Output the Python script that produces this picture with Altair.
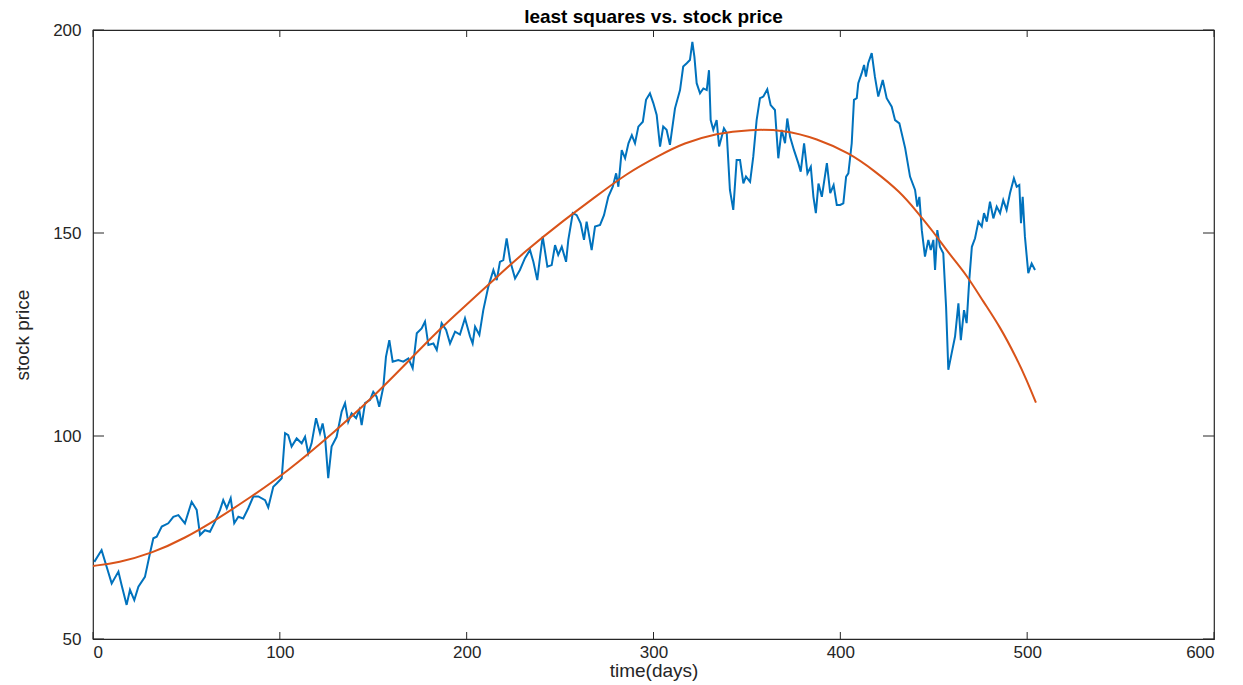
import altair as alt
import pandas as pd

# stock price series (day, price)
days = [0.7, 4.6, 7.3, 10, 13.6, 15.3, 18, 19.8, 22.1, 24.3, 27.8, 30.5, 32.3, 34.1, 36.8, 40.3, 43, 45.7, 49.2,
        52.8, 55.5, 57.3, 59.9, 62.6, 65.3, 68, 69.7, 71.6, 73.7, 75.6, 77.8, 80.4, 83.1, 85.8, 88.5, 92.1, 93.8,
        96.5, 98.3, 101, 102.8, 104.5, 106.3, 109, 111.7, 113.5, 115.2, 117, 119.4, 121.5, 122.9, 124.2, 125.9,
        127.7, 130.4, 133.1, 134.9, 136.6, 138.4, 140.8, 142.5, 143.8, 145.6, 148.3, 150, 151.8, 153.2, 155.4,
        156.8, 158.6, 160.4, 163.4, 166.1, 168.8, 171.1, 173.3, 175.9, 177.7, 179.5, 182.2, 184, 186.6, 189,
        191.1, 193.8, 196.4, 199.1, 201.8, 203.2, 204.5, 206.8, 208.9, 211.6, 214.3, 216.1, 217.8, 219.6, 221.4,
        223.2, 225.9, 228.5, 231.2, 233.9, 235.7, 237.8, 239.3, 240.7, 243.2, 245.5, 247.3, 249, 250.9, 253.2,
        254.4, 256.8, 258.9, 261, 262.8, 264.2, 266.9, 268.7, 271.4, 273.5, 275.8, 278.2, 280, 281.2, 283, 284.8,
        286.6, 288.4, 290.1, 291.9, 294.3, 296, 298.1, 299.9, 301.7, 303.5, 305.2, 307, 308.8, 311.5, 314.2,
        315.9, 317.8, 319.5, 320.8, 321.9, 323.1, 324.9, 326.7, 328.5, 329.7, 330.6, 332, 333.8, 335.1, 336.5,
        337.7, 339.2, 340.9, 342.7, 344.5, 346.3, 348.1, 349.5, 351.7, 353.4, 355.2, 357, 358.8, 360.9, 362.7,
        365, 366.8, 368.6, 370.4, 371.6, 373.1, 375.2, 377.5, 378.8, 380.6, 382.4, 384.2, 385.6, 386.9, 388.3,
        390.1, 392.8, 394.6, 396.4, 398.1, 399.9, 401.6, 403.1, 404.3, 406.1, 407.3, 408.8, 409.6, 411.4, 412.7,
        413.7, 414.9, 416.8, 418.5, 420.3, 422.7, 424.8, 427.5, 429.3, 431.6, 434.7, 437.3, 440, 441.2, 442.3,
        443.6, 445.3, 447.1, 448.4, 449.8, 450.7, 451.9, 453.3, 455.1, 456.6, 457.8, 459.6, 461.4, 463.2, 464.5,
        466.2, 467.6, 469, 470.4, 472.1, 473.9, 475.7, 476.9, 478.4, 480.1, 481.9, 483.7, 485.5, 487.2, 489,
        490.8, 492.9, 494.4, 495.8, 496.7, 497.6, 498.8, 500.6, 502.4, 504.2]
prices = [69.0, 71.9, 67.8, 63.7, 66.6, 63.3, 58.4, 62.1, 59.6, 62.9, 65.3, 71.1, 74.8, 75.2, 77.7, 78.5, 80.1, 80.5,
          78.5, 83.8, 81.8, 75.6, 76.8, 76.4, 78.9, 81.8, 84.2, 82.2, 84.7, 78.5, 80.1, 79.7, 82.2, 85.1, 85.1,
          84.2, 82.4, 87.5, 88.3, 89.6, 100.7, 100.2, 97.4, 99.4, 98.2, 99.8, 95.7, 98.2, 104.4, 100.7, 103.1,
          99.8, 89.6, 97.4, 99.8, 106.0, 108.1, 103.5, 105.6, 104.4, 106.4, 102.7, 108.1, 108.9, 110.9, 109.7,
          107.2, 112.1, 119.5, 123.6, 118.3, 118.7, 118.3, 119.1, 116.7, 125.3, 126.5, 128.2, 122.4, 122.8, 121.2,
          127.8, 126.1, 122.8, 125.7, 125.0, 129.0, 124.5, 122.8, 126.9, 124.9, 131.0, 136.8, 140.9, 138.4, 142.9,
          143.3, 148.7, 143.3, 138.8, 140.9, 143.8, 145.8, 142.9, 138.4, 144.2, 149.1, 141.7, 142.1, 147.0, 144.6,
          146.6, 142.9, 148.3, 154.9, 154.4, 152.4, 148.3, 152.8, 145.8, 151.6, 152.0, 154.4, 158.9, 161.4, 164.7,
          161.4, 170.4, 168.4, 172.1, 174.1, 172.1, 176.2, 177.4, 182.8, 184.4, 182.0, 179.1, 171.3, 176.2, 175.4,
          171.7, 180.7, 185.2, 191.0, 191.8, 192.6, 197.1, 193.4, 186.9, 184.4, 185.6, 185.2, 190.1, 177.8, 175.4,
          177.8, 171.3, 173.7, 175.8, 174.6, 160.6, 155.7, 168.0, 168.0, 162.2, 163.9, 162.6, 168.8, 177.8, 183.2,
          183.6, 185.4, 181.5, 180.3, 168.4, 175.4, 172.1, 178.2, 173.7, 170.4, 167.2, 165.1, 172.1, 164.7, 166.3,
          158.9, 154.9, 162.2, 158.9, 167.2, 159.8, 161.8, 156.9, 156.9, 157.3, 163.9, 164.7, 172.1, 182.8, 183.2,
          186.9, 189.3, 191.4, 188.5, 191.8, 194.3, 188.5, 183.6, 187.7, 183.2, 181.1, 177.8, 177.0, 170.9, 163.9,
          160.6, 156.5, 158.9, 150.7, 144.2, 148.3, 145.8, 148.3, 140.9, 150.7, 146.6, 145.0, 131.8, 116.3, 120.4,
          124.5, 132.7, 123.6, 131.0, 127.8, 138.4, 146.6, 148.7, 152.8, 151.6, 154.9, 152.8, 157.7, 153.6, 156.5,
          154.9, 158.1, 155.7, 159.8, 163.5, 161.4, 161.8, 152.4, 158.9, 149.1, 140.1, 142.5, 140.9]

# least squares fit curve
fit_days = [0, 13.6, 31.4, 49.2, 67.1, 84.9, 102.8, 130.4, 148.3, 166.1, 184, 201.8, 214.3, 232.1, 249.9,
            267.8, 285.6, 303.5, 315.9, 333.8, 351.7, 369.5, 387.4, 405.2, 417.7, 431.9, 440.9, 449.8, 458.7,
            467.6, 476.5, 485.5, 494.4, 499.7, 504.7]
fit_vals = [68.0, 68.8, 71.1, 74.8, 79.7, 85.1, 90.8, 101.5, 108.9, 117.1, 125.7, 133.1, 138.4, 145.8, 152.4,
            158.5, 164.7, 169.2, 172.1, 174.6, 175.5, 175.4, 173.3, 169.6, 165.5, 160.2, 155.3, 150.3, 144.6,
            139.7, 133.1, 126.9, 119.1, 113.8, 108.2]

x_ticks = [0, 100, 200, 300, 400, 500, 600]
y_ticks = [50, 100, 150, 200]
title_text = "least squares vs. stock price"

W, H = 1121, 609
FONT = "Liberation Sans"
AX = "#262626"

stock = pd.DataFrame({"day": days, "price": prices})
fit = pd.DataFrame({"day": fit_days, "price": fit_vals})
xt = pd.DataFrame({"t": x_ticks})
yt = pd.DataFrame({"v": y_ticks})

xs = alt.Scale(domain=[0, 600], nice=False)
ys = alt.Scale(domain=[50, 200], nice=False)

x_axis = alt.Axis(values=x_ticks, ticks=False, domain=False, grid=False, labelFontSize=17,
                  labelPadding=5, titleFontSize=19, titlePadding=1, labelColor=AX, titleColor=AX,
                  labelFont=FONT, titleFont=FONT, titleFontWeight="normal")
y_axis = alt.Axis(values=y_ticks, ticks=False, domain=False, grid=False, labelFontSize=17,
                  labelPadding=12, titleFontSize=19, titlePadding=20, labelColor=AX, titleColor=AX,
                  labelFont=FONT, titleFont=FONT, titleFontWeight="normal")

blue = alt.Chart(stock).mark_line(color="#0072BD", strokeWidth=2).encode(
    x=alt.X("day:Q", scale=xs, axis=x_axis, title="time(days)"),
    y=alt.Y("price:Q", scale=ys, axis=y_axis, title="stock price"),
)
orange = alt.Chart(fit).mark_line(color="#D95319", strokeWidth=2, interpolate="basis").encode(
    x=alt.X("day:Q", scale=xs),
    y=alt.Y("price:Q", scale=ys),
)

xtick_b = alt.Chart(xt).mark_rule(color=AX, strokeWidth=1).encode(
    x=alt.X("t:Q", scale=xs), y=alt.value(H), y2=alt.value(H - 7))
xtick_t = alt.Chart(xt).mark_rule(color=AX, strokeWidth=1).encode(
    x=alt.X("t:Q", scale=xs), y=alt.value(0), y2=alt.value(7))
ytick_l = alt.Chart(yt).mark_rule(color=AX, strokeWidth=1).encode(
    y=alt.Y("v:Q", scale=ys), x=alt.value(0), x2=alt.value(11))
ytick_r = alt.Chart(yt).mark_rule(color=AX, strokeWidth=1).encode(
    y=alt.Y("v:Q", scale=ys), x=alt.value(W), x2=alt.value(W - 11))

title = alt.Chart(pd.DataFrame({"t": [title_text]})).mark_text(
    font=FONT, fontSize=19, fontWeight="bold", color="#000000", align="center", baseline="alphabetic"
).encode(text="t:N", x=alt.value(W / 2), y=alt.value(-7))

chart = alt.layer(blue, orange, xtick_b, xtick_t, ytick_l, ytick_r, title).properties(
    width=W, height=H,
    autosize=alt.AutoSizeParams(type="none"),
    padding={"left": 93, "top": 30, "right": 29, "bottom": 46},
    background="white",
).configure_view(stroke=AX, strokeWidth=1.2)

chart.save("out.html", embed_options={"renderer": "svg", "actions": False})
